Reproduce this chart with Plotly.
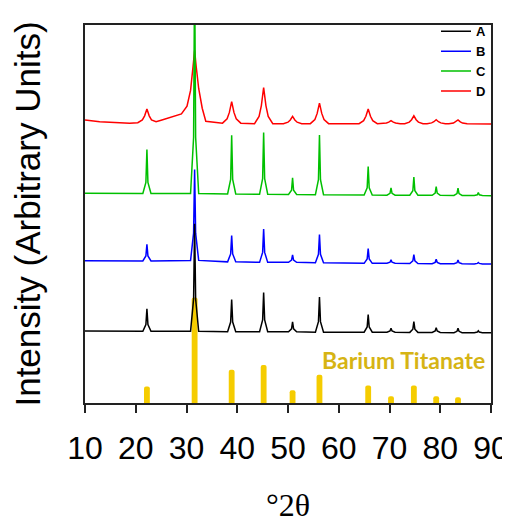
import plotly.graph_objects as go

# ---------------- data (y in arbitrary units) ----------------
two_theta_sharp = [10,
    21.4, 22.0, 22.2, 22.4, 23.0,
    30.8, 31.4, 31.6, 31.8, 32.4,
    38.1, 38.7, 38.9, 39.1, 39.7,
    44.4, 45.0, 45.2, 45.4, 46.0,
    50.1, 50.7, 50.9, 51.1, 51.7,
    55.4, 56.0, 56.2, 56.4, 57.0,
    65.0, 65.6, 65.8, 66.0, 66.6,
    69.5, 70.1, 70.3, 70.5, 71.1,
    74.0, 74.6, 74.8, 75.0, 75.6,
    78.4, 79.0, 79.2, 79.4, 80.0,
    82.7, 83.3, 83.5, 83.7, 84.3,
    86.7, 87.3, 87.5, 87.7, 88.3,
    90]

intensity_A = [73.7,
    73.5, 80.4, 96.5, 80.4, 73.5,
    73.5, 106.5, 183.5, 106.5, 73.5,
    73.0, 82.9, 106.0, 82.9, 73.0,
    73.0, 85.0, 113.0, 85.0, 73.0,
    73.0, 76.0, 83.0, 76.0, 73.0,
    72.5, 83.3, 108.5, 83.3, 72.5,
    72.5, 77.9, 90.5, 77.9, 72.5,
    72.5, 73.7, 76.5, 73.7, 72.5,
    72.3, 75.6, 83.3, 75.6, 72.3,
    72.2, 73.7, 77.2, 73.7, 72.2,
    72.0, 73.4, 76.5, 73.4, 72.0,
    72.0, 72.6, 74.0, 72.6, 72.0,
    72.0]

intensity_B = [145.7,
    145.5, 150.6, 162.5, 150.6, 145.5,
    146.0, 173.9, 239.0, 173.9, 146.0,
    144.5, 152.6, 171.5, 152.6, 144.5,
    144.0, 154.2, 178.0, 154.2, 144.0,
    144.0, 146.3, 151.5, 146.3, 144.0,
    143.5, 152.2, 172.5, 152.2, 143.5,
    143.0, 147.5, 158.0, 147.5, 143.0,
    143.0, 144.1, 146.5, 144.1, 143.0,
    142.8, 145.5, 151.8, 145.5, 142.8,
    142.6, 144.0, 147.1, 144.0, 142.6,
    142.5, 143.7, 146.5, 143.7, 142.5,
    142.4, 142.9, 143.9, 142.9, 142.4,
    142.3]

intensity_C = [214.7,
    214.5, 225.8, 259.5, 225.8, 214.5,
    214.5, 272.0, 444.5, 272.0, 214.5,
    214.0, 229.0, 274.0, 229.0, 214.0,
    213.8, 229.6, 276.8, 229.6, 213.8,
    213.5, 217.8, 230.5, 217.8, 213.5,
    213.3, 228.6, 274.3, 228.6, 213.3,
    213.0, 220.3, 242.0, 220.3, 213.0,
    212.8, 214.7, 220.3, 214.7, 212.8,
    212.7, 217.3, 231.2, 217.3, 212.7,
    212.6, 214.9, 221.6, 214.9, 212.6,
    212.5, 214.4, 220.0, 214.4, 212.5,
    212.4, 213.2, 215.4, 213.2, 212.4,
    212.3]

two_theta_D = [10, 12.9, 18.8,
    20.4, 21.3, 21.75, 22.2, 22.65, 23.1, 24.0,
    25.0, 27.0, 29.0,
    30.1, 30.8, 31.3, 31.6, 31.9, 32.4, 33.1, 33.8,
    37.1, 38.0, 38.45, 38.9, 39.35, 39.8, 40.7,
    43.4, 44.3, 44.75, 45.2, 45.65, 46.1, 47.0,
    49.1, 50.0, 50.45, 50.9, 51.35, 51.8, 52.7,
    54.4, 55.3, 55.75, 56.2, 56.65, 57.1, 58.0,
    64.0, 64.9, 65.35, 65.8, 66.25, 66.7, 67.6,
    68.5, 69.4, 69.85, 70.3, 70.75, 71.2, 72.1,
    73.0, 73.9, 74.35, 74.8, 75.25, 75.7, 76.6,
    77.4, 78.3, 78.75, 79.2, 79.65, 80.1, 81.0,
    81.7, 82.6, 83.05, 83.5, 83.95, 84.4, 85.3,
    90]

intensity_D = [289.7, 288.0, 286.3,
    287.0, 289.8, 294.0, 301.0, 294.0, 289.8, 288.0,
    289.5, 292.5, 296.0,
    304.0, 320.0, 345.0, 361.0, 345.0, 322.0, 301.8, 288.5,
    286.5, 290.9, 297.5, 308.5, 297.5, 290.9, 286.5,
    286.0, 293.4, 304.5, 323.0, 304.5, 293.4, 286.0,
    286.0, 287.5, 289.8, 293.5, 289.8, 287.5, 286.0,
    286.0, 290.2, 296.5, 307.0, 296.5, 290.2, 286.0,
    286.0, 289.0, 293.5, 301.0, 293.5, 289.0, 286.0,
    286.0, 286.6, 287.5, 289.0, 287.5, 286.6, 286.0,
    286.0, 287.6, 290.0, 294.0, 290.0, 287.6, 286.0,
    286.0, 286.8, 288.0, 290.0, 288.0, 286.8, 286.0,
    285.8, 286.6, 287.8, 289.8, 287.8, 286.6, 285.8,
    285.7]

ref_two_theta = [22.2, 31.6, 38.9, 45.2, 50.9, 56.2, 65.8, 70.3, 74.8, 79.2, 83.5]
ref_intensity = [17, 108, 34, 39, 13, 29, 18, 7, 18, 7, 6]

x_ticks = [10, 20, 30, 40, 50, 60, 70, 80, 90]

# ---------------- figure ----------------
fig = go.Figure()

fig.add_trace(go.Bar(x=ref_two_theta, y=ref_intensity, width=1.15,
                     marker=dict(color="#F5CC00", line=dict(width=0)),
                     showlegend=False, hoverinfo="skip"))

series = [("D", two_theta_D, intensity_D, "#FF0000"),
          ("C", two_theta_sharp, intensity_C, "#00C000"),
          ("B", two_theta_sharp, intensity_B, "#0000FF"),
          ("A", two_theta_sharp, intensity_A, "#000000")]
for name, xs, ys, col in series:
    fig.add_trace(go.Scatter(x=xs, y=ys, mode="lines", name="<b>" + name + "</b>",
                             line=dict(color=col, width=1.5)))

fig.add_annotation(x=72.8, y=44, xref="x", yref="y", text="<b>Barium Titanate</b>",
                   showarrow=False, font=dict(family="Lato", size=23, color="#D6B414"))

fig.update_layout(
    width=502, height=515,
    margin=dict(l=77, r=19, t=8, b=120),
    plot_bgcolor="white", paper_bgcolor="white",
    barcornerradius="50%",
    font=dict(family="Liberation Sans, Arial", color="black"),
    legend=dict(x=1, xanchor="right", y=1.023, yanchor="top", traceorder="reversed",
                bgcolor="rgba(0,0,0,0)", font=dict(size=13, family="Liberation Sans, Arial"),
                itemwidth=30),
    showlegend=True,
)

fig.update_xaxes(range=[10, 90], tickvals=x_ticks, ticks="outside", ticklen=8,
                 tickwidth=1.5, tickcolor="#222", showline=True, linecolor="#222",
                 linewidth=1.5, mirror=True, showgrid=False, zeroline=False,
                 tickfont=dict(size=32), ticklabelstandoff=8, automargin=False,
                 title=dict(text="°2θ", font=dict(family="Liberation Serif", size=32), standoff=40))
fig.update_yaxes(range=[0, 387], showticklabels=False, ticks="", showline=True,
                 linecolor="#222", linewidth=1.5, mirror=True, showgrid=False, zeroline=False,
                 automargin=False,
                 title=dict(text="Intensity (Arbitrary Units)", font=dict(size=35), standoff=40))

fig.write_html("out.html")
